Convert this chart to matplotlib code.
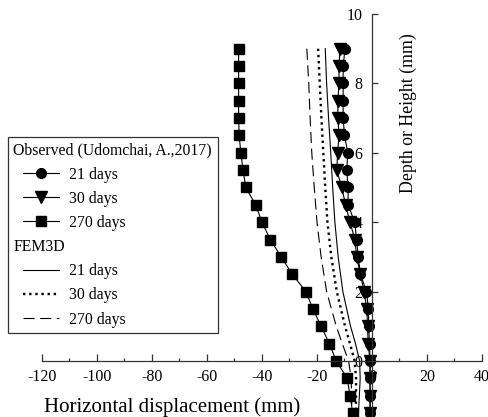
import matplotlib
matplotlib.use("Agg")
import matplotlib.pyplot as plt
from matplotlib.lines import Line2D
from matplotlib.legend_handler import HandlerLine2D
from matplotlib.ticker import MultipleLocator

plt.rcParams["font.family"] = ["Liberation Serif", "DejaVu Serif"]
plt.rcParams["axes.unicode_minus"] = False

# observed inclinometer readings (Udomchai, A., 2017)
obs_depth = [9, 8.5, 8, 7.5, 7, 6.5, 6, 5.5, 5, 4.5, 4, 3.5, 3, 2.5, 2, 1.5,
             1, 0.5, 0, -0.5, -1, -1.5]
obs_21 = [-9.8, -10.5, -10.5, -10.5, -10.5, -10.0, -8.8, -9.2, -8.7, -8.7,
          -6.3, -5.6, -5.0, -4.2, -2.0, -1.3, -1.2, -0.9, -0.7, -0.7, -0.7, -0.6]
obs_30 = [-11.6, -12.0, -12.0, -12.4, -12.4, -12.0, -12.5, -12.8, -11.0, -9.6,
          -8.0, -6.2, -5.6, -4.2, -2.9, -1.9, -1.6, -1.4, -0.7, -0.7, -0.7, -0.7]
obs_270 = [-48.5, -48.5, -48.5, -48.5, -48.5, -48.3, -47.7, -46.9, -45.9, -42.3,
           -40.0, -37.0, -33.0, -29.0, -24.0, -21.5, -18.5, -15.5, -13.0, -9.0,
           -8.0, -7.0]

# FEM 3D predictions
fem_depth = [9, 8, 7, 6, 5, 4, 3, 2, 1, 0.5, 0, -0.5, -1, -1.6]
fem_21 = [-17.0, -16.5, -15.8, -15.0, -14.3, -13.5, -12.3, -10.6, -7.8, -6.0,
          -4.5, -4.3, -4.6, -5.0]
fem_30 = [-19.6, -19.0, -18.4, -17.7, -17.0, -16.2, -14.8, -12.8, -9.8, -8.0,
          -6.3, -5.8, -5.8, -5.9]
fem_270 = [-23.7, -23.0, -22.5, -21.9, -21.0, -20.0, -18.5, -16.5, -13.0, -10.8,
           -8.5, -7.6, -7.4, -7.3]

xticks = [-120, -100, -80, -60, -40, -20, 0, 20, 40]
yticks = [0, 2, 4, 6, 8, 10]

fig = plt.figure(figsize=(4.89, 4.17), dpi=100)
ax = fig.add_axes([42 / 489, 0, 440 / 489, 403 / 417])

lw = 0.8
l1, = ax.plot(obs_21, obs_depth, "-o", color="black", lw=lw, ms=7)
l2, = ax.plot(obs_30, obs_depth, "-v", color="black", lw=lw, ms=8)
l3, = ax.plot(obs_270, obs_depth, "-s", color="black", lw=lw, ms=7.3)
f1, = ax.plot(fem_21, fem_depth, "-", color="black", lw=0.8)
f2, = ax.plot(fem_30, fem_depth, color="black", lw=1.7, linestyle=(0, (1, 1.6)))
f3, = ax.plot(fem_270, fem_depth, color="black", lw=0.8, linestyle=(0, (10, 5)))

ax.set_xlim(-120, 40)
ax.set_ylim(-1.614, 10)

for s in ("top", "right"):
    ax.spines[s].set_visible(False)
ax.spines["left"].set_position(("data", 0))
ax.spines["bottom"].set_position(("data", 0))
for s in ("left", "bottom"):
    ax.spines[s].set_linewidth(0.9)
    ax.spines[s].set_color("#333333")

ax.set_xticks(xticks)
ax.set_yticks(yticks)
ax.xaxis.set_minor_locator(MultipleLocator(10))
ax.tick_params(axis="x", which="major", direction="in", length=5, width=0.9,
               pad=6, labelsize=11.5, color="#333333")
ax.tick_params(axis="x", which="minor", direction="in", length=2.5, width=0.9,
               color="#333333")
ax.tick_params(axis="y", direction="in", length=4.5, width=0.9, pad=7,
               labelsize=11.5, color="#333333")

ax.set_xlabel("Horizontal displacement (mm)", fontsize=15)
ax.xaxis.set_label_coords(0.296, 0.05)
ax.set_ylabel("Depth or Height (mm)", fontsize=12.8)
ax.yaxis.set_label_coords(0.853, 0.754)

blank = Line2D([], [], linestyle="none", marker="none")
handles = [blank, l1, l2, l3, blank, f1, f2, f3]
labels = ["Observed (Udomchai, A.,2017)", "21 days", "30 days", "270 days",
          "FEM3D", "21 days", "30 days", "270 days"]
fs = 11.3
leg = ax.legend(handles, labels, loc="upper left",
                bbox_to_anchor=(8 / 489, 1 - 137 / 417),
                bbox_transform=fig.transFigure, borderaxespad=0,
                fontsize=fs, frameon=True, fancybox=False, framealpha=1,
                edgecolor="#333333", borderpad=0.35, labelspacing=0.52,
                handlelength=2.9, handletextpad=0.65,
                handler_map={Line2D: HandlerLine2D(xpad=0.6)})
leg.get_frame().set_linewidth(0.9)

# header rows carry no sample, so let their text start at the left edge
rows = leg._legend_handle_box.get_children()[0].get_children()
for i in (0, 4):
    rows[i].sep = 0
    rows[i].get_children()[0].width = 0

fig.savefig("out.png", dpi=100)
